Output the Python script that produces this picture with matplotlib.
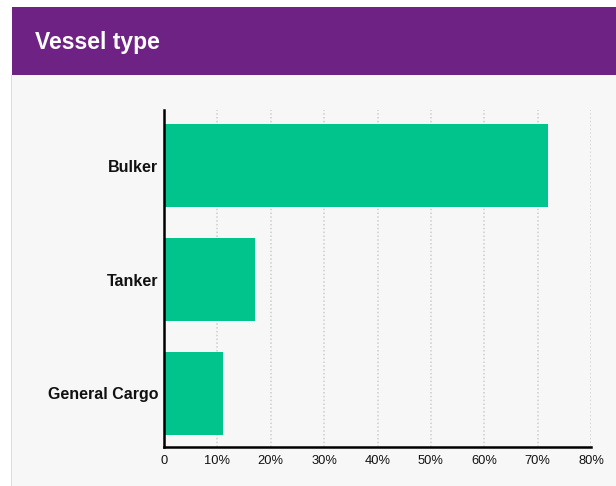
import matplotlib
matplotlib.use("Agg")
import matplotlib.pyplot as plt
from matplotlib.patches import Rectangle
from matplotlib.ticker import FuncFormatter

plt.rcParams['font.family'] = ['Liberation Sans', 'DejaVu Sans']

# share of vessels by type (%)
vessel_types = ["Bulker", "Tanker", "General Cargo"]
shares = [72, 17, 11]
x_ticks = [0, 10, 20, 30, 40, 50, 60, 70, 80]

PURPLE = "#6e2283"
GREEN = "#00c48c"
PANEL = "#f7f7f7"

fig = plt.figure(figsize=(6.16, 4.86), dpi=100)
fig.patch.set_facecolor("white")

W, H = 616, 486
# light panel behind the chart, with a thin left border
fig.patches.append(Rectangle((11 / W, 0), 1 - 11 / W, (H - 75) / H,
                             transform=fig.transFigure, facecolor=PANEL,
                             edgecolor="none", zorder=-2))
fig.patches.append(Rectangle((11 / W, 0), 1.2 / W, (H - 75) / H,
                             transform=fig.transFigure, facecolor="#dddddd",
                             edgecolor="none", zorder=-2))
# purple header band
fig.patches.append(Rectangle((12 / W, (H - 75) / H), 1 - 12 / W, 68 / H,
                             transform=fig.transFigure, facecolor=PURPLE,
                             edgecolor="none", zorder=-2))
fig.text(35 / W, (H - 42) / H, "Vessel type", color="white", fontsize=16.5,
         fontweight="bold", va="center", ha="left")

ax = fig.add_axes([164 / W, (H - 447) / H, (591 - 164) / W, (447 - 110) / H])
ax.set_facecolor("none")

ypos = list(range(len(vessel_types)))
ax.barh(ypos, shares, height=0.73, color=GREEN, edgecolor="none", zorder=2)

ax.set_xlim(0, 80)
ax.set_ylim(len(vessel_types) - 1 + 0.47, -0.49)
ax.set_xticks(x_ticks)
ax.xaxis.set_major_formatter(FuncFormatter(lambda v, p: "0" if v == 0 else f"{v:.0f}%"))
ax.set_yticks(ypos)
ax.set_yticklabels(vessel_types, fontsize=11.5, fontweight="bold", color="#111111")
for lbl in ax.get_yticklabels():
    lbl.set_y(lbl.get_position()[1])
ax.tick_params(axis="y", length=0, pad=4)
ax.tick_params(axis="x", length=0, pad=6, labelsize=9.3, labelcolor="#111111")

ax.grid(axis="x", color="#cdcdcd", linestyle=(0, (1.0, 1.5)), linewidth=1.1, zorder=1)
ax.grid(axis="y", visible=False)
ax.set_axisbelow(True)

for side in ("top", "right"):
    ax.spines[side].set_visible(False)
for side in ("left", "bottom"):
    ax.spines[side].set_color("black")
    ax.spines[side].set_linewidth(1.8)
    ax.spines[side].set_zorder(3)

fig.savefig("out.png", dpi=100, facecolor=fig.get_facecolor())
